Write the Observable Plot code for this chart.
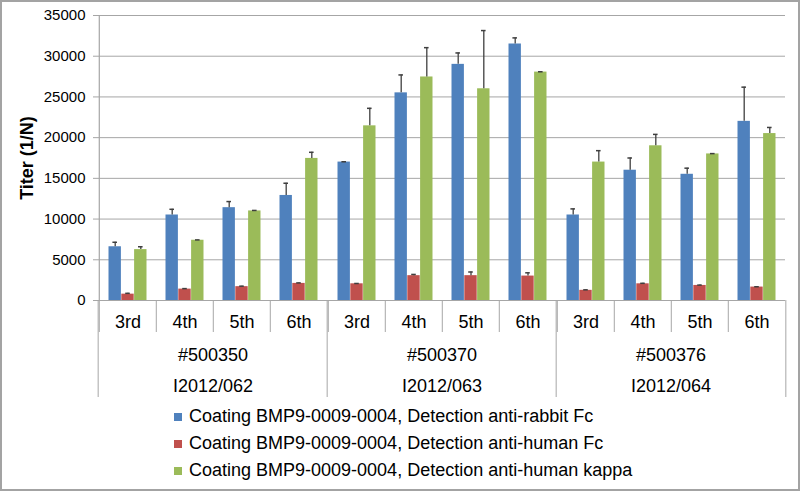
<!DOCTYPE html>
<html><head><meta charset="utf-8">
<script src="https://cdn.jsdelivr.net/npm/d3@7"></script>
<script src="https://cdn.jsdelivr.net/npm/@observablehq/plot@0.6"></script>
<style>
body{margin:0;background:#fff;font-family:"Liberation Sans",Arial,sans-serif;}
#wrap{position:relative;width:800px;height:491px;overflow:hidden;background:#fff;}
#border{position:absolute;left:0;top:0;width:800px;height:491px;box-sizing:border-box;border:2px solid #a3a3a3;pointer-events:none;}
#wrap svg [aria-label="y-axis label"] text{font-weight:bold;font-size:18px;}
#wrap .lg-swatches.lg-swatches-wrap{display:flex;flex-direction:column;align-items:flex-start;margin:0 0 0 174px;min-height:0;font-family:"Liberation Sans",Arial,sans-serif;font-size:18px;color:#000;}
#wrap .lg-swatches .lg-swatch{height:27px;margin:0;display:flex;align-items:center;}
#wrap .lg-swatches .lg-swatch > svg{margin-right:7px;}
</style></head>
<body>
<div id="wrap"><div id="chart"></div><div id="border"></div></div>
<script>
const groups = ["#500350", "#500370", "#500376"];
const lots = ["I2012/062", "I2012/063", "I2012/064"];
const rounds = ["3rd", "4th", "5th", "6th"];
const series = [
  "Coating BMP9-0009-0004, Detection anti-rabbit Fc",
  "Coating BMP9-0009-0004, Detection anti-human Fc",
  "Coating BMP9-0009-0004, Detection anti-human kappa"
];
const colors = ["#4F81BD", "#C0504D", "#9BBB59"];
const yTicks = [0, 5000, 10000, 15000, 20000, 25000, 30000, 35000];

// values in order: group x round (12 entries)
const rabbitFc      = [6600, 10500, 11400, 12900, 17000, 25500, 29000, 31500, 10500, 16000, 15500, 22000];
const rabbitFcErr   = [550, 700, 750, 1500, 40, 2200, 1400, 750, 750, 1500, 750, 4200];
const humanFc       = [780, 1400, 1700, 2100, 2050, 3050, 3050, 3000, 1250, 2050, 1850, 1650];
const humanFcErr    = [100, 60, 60, 60, 40, 150, 450, 400, 60, 60, 40, 40];
const humanKappa    = [6250, 7400, 11000, 17450, 21450, 27450, 26000, 28050, 17000, 19000, 18000, 20500];
const humanKappaErr = [350, 40, 60, 750, 2150, 3600, 7150, 40, 1400, 1400, 40, 750];

const valueSets = [rabbitFc, humanFc, humanKappa];
const errSets = [rabbitFcErr, humanFcErr, humanKappaErr];

const rows = [];
groups.forEach((g, gi) => rounds.forEach((r, ri) => series.forEach((s, si) => {
  const k = gi * rounds.length + ri;
  rows.push({group: g, round: r, series: s, si, value: valueSets[si][k], err: errSets[si][k]});
})));

const W = 800, H = 403, mL = 97, mR = 14, mT = 15, mB = 103;
const facetW = (W - mL - mR) / groups.length;
const bw = facetW / rounds.length;
const barW = bw * 0.223;
const inset = (bw - barW) / 2;
const capInset = (bw - 5) / 2;
const gray = "#a6a6a6";
const errColor = "#3f3f3f";

const marks = [
  Plot.gridY({ticks: yTicks, stroke: gray, strokeOpacity: 1})
];
series.forEach((s, si) => {
  const data = rows.filter(d => d.si === si);
  const off = (si - 1) * barW;
  marks.push(Plot.barY(data, {fx: "group", x: "round", y: "value", fill: colors[si], insetLeft: inset, insetRight: inset, dx: off}));
  marks.push(Plot.ruleX(data, {fx: "group", x: "round", y1: "value", y2: d => d.value + d.err, stroke: errColor, strokeWidth: 1.3, dx: off}));
  marks.push(Plot.tickY(data, {fx: "group", x: "round", y: d => d.value + d.err, stroke: errColor, strokeWidth: 1.5, insetLeft: capInset, insetRight: capInset, dx: off}));
});
marks.push(
  // y axis line
  Plot.ruleX([{group: groups[0], round: rounds[0]}], {fx: "group", x: "round", stroke: gray, strokeWidth: 1.2, dx: -bw / 2}),
  Plot.axisY({ticks: yTicks, tickSize: 5, tickPadding: 8, fontSize: 15, stroke: gray, label: "Titer (1/N)", labelAnchor: "center", labelArrow: "none", labelOffset: 78, tickFormat: d => String(d)}),
  // category separators
  Plot.axisX({tickSize: 32, text: null, dx: -bw / 2, stroke: gray, label: null}),
  Plot.axisX({tickSize: 0, tickPadding: 15, fontSize: 18, label: null}),
  Plot.axisFx({anchor: "bottom", tickSize: 97, text: null, dx: -facetW / 2, stroke: gray, label: null}),
  Plot.axisFx({anchor: "bottom", ticks: [groups[groups.length - 1]], tickSize: 97, text: null, dx: facetW / 2, stroke: gray, label: null}),
  Plot.axisFx({anchor: "bottom", tickSize: 0, tickPadding: 39, fontSize: 18, lineHeight: 1.72, label: null,
    tickFormat: g => g + "\n" + lots[groups.indexOf(g)]})
);

const chart = Plot.plot({
  width: W, height: H,
  marginLeft: mL, marginRight: mR, marginTop: mT, marginBottom: mB,
  style: {fontFamily: "Liberation Sans, Arial, sans-serif", fontSize: "15px", color: "#000", background: "#fff"},
  fx: {domain: groups, padding: 0},
  x: {domain: rounds, padding: 0},
  y: {domain: [0, 35000]},
  marks
});
document.getElementById("chart").appendChild(chart);

const legend = Plot.legend({
  color: {type: "ordinal", domain: series, range: colors},
  swatchSize: 8, className: "lg"
});
document.getElementById("chart").appendChild(legend);
</script>
</body></html>
